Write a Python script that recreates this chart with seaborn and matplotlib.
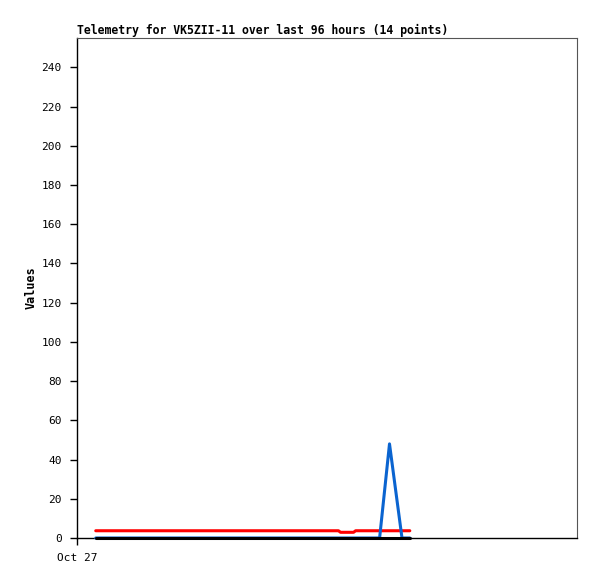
#!/usr/bin/env python3

import matplotlib

matplotlib.use("Agg")
import matplotlib.pyplot as plt
import pandas
import seaborn as sns

# Hours since Oct 27 00:00 for the 14 telemetry points
hours = [3.6, 12.0, 20.0, 28.0, 36.0, 44.0, 50.2, 50.6, 53.1, 53.5, 58.1, 60.0, 62.4, 63.9]
red = [3.7, 3.7, 3.7, 3.7, 3.7, 3.7, 3.7, 2.9, 2.9, 3.7, 3.7, 3.7, 3.7, 3.7]
blue = [0, 0, 0, 0, 0, 0, 0, 0, 0, 0, 0, 48, 0, 0]
black = [0, 0, 0, 0, 0, 0, 0, 0, 0, 0, 0, 0, 0, 0]
ymax = 255
yticks = list(range(0, 241, 20))

sns.set_style("ticks")
plt.rcParams["font.family"] = ["DejaVu Sans Mono"]
plt.rcParams["text.color"] = "black"
plt.rcParams["axes.labelcolor"] = "black"
plt.rcParams["xtick.color"] = "black"
plt.rcParams["ytick.color"] = "black"

df = pandas.DataFrame({"hours": hours, "red": red, "blue": blue, "black": black})

fig = plt.figure(figsize=(5.97, 5.79), dpi=100)
ax = fig.add_axes([77 / 597, 41 / 579, 500 / 597, 500 / 579])

sns.lineplot(df, x="hours", y="red", color="#ff0000", linewidth=2.2, ax=ax, clip_on=False, zorder=3)
sns.lineplot(df, x="hours", y="blue", color="#0a64d0", linewidth=2.2, ax=ax, clip_on=False, zorder=4)
sns.lineplot(df, x="hours", y="black", color="#000000", linewidth=2.2, ax=ax, clip_on=False, zorder=5)

ax.set_xlim(0, 96)
ax.set_ylim(0, ymax)
ax.set_xticks([0])
ax.set_xticklabels(["Oct 27"])
ax.set_yticks(yticks)
ax.tick_params(direction="out", length=5, width=1, labelsize=8, pad=6)

for side in ["top", "right"]:
    ax.spines[side].set_color("#555555")
    ax.spines[side].set_linewidth(0.8)
for side in ["left", "bottom"]:
    ax.spines[side].set_color("black")
    ax.spines[side].set_linewidth(1.0)

ax.set_xlabel("")
ax.set_ylabel("Values", fontsize=8.5, fontweight="bold", labelpad=3)
ax.set_title(
    "Telemetry for VK5ZII-11 over last 96 hours (14 points)",
    loc="left",
    fontsize=8.3,
    fontweight="bold",
    pad=3,
)

plt.savefig("out.png", dpi=100)
